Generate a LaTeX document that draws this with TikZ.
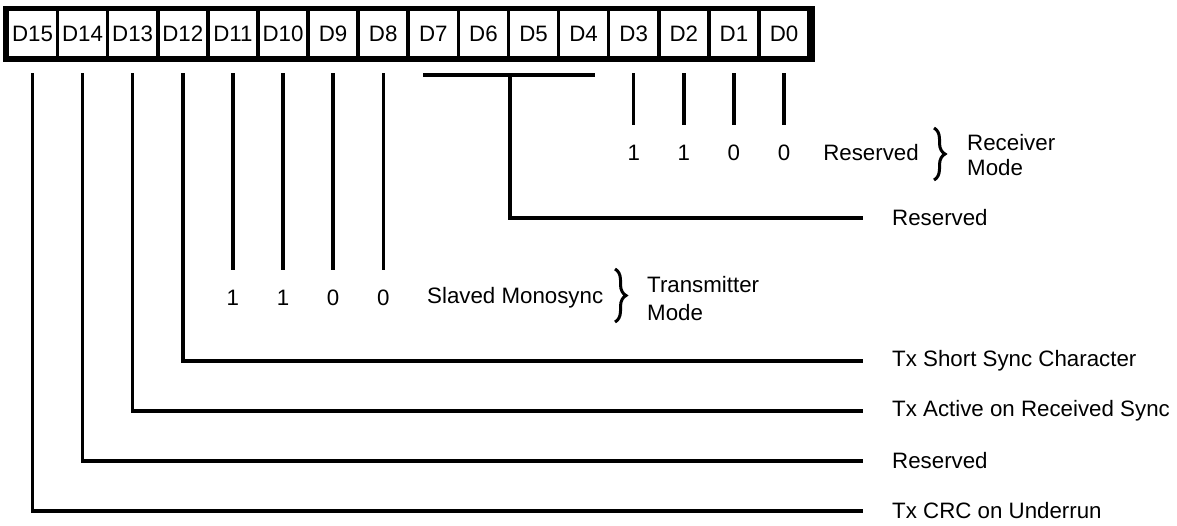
\documentclass[tikz,border=0pt]{standalone}
\usepackage{fontspec}
\setmainfont{Liberation Sans}
\usetikzlibrary{decorations.pathreplacing}
\begin{document}
\begin{tikzpicture}[x=1pt,y=-1pt,
  every node/.style={font=\fontsize{22.3}{26}\selectfont, text=black},
  cell/.style={fill=white, minimum width=46.5pt, minimum height=45pt, inner sep=0pt},
  frame/.style={fill=black, minimum width=812pt, minimum height=56pt, inner sep=0pt},
  conn/.style={line width=3.4pt, black},
  lab/.style={anchor=west, inner sep=0pt},
  digit/.style={inner sep=0pt},
  bracestyle/.style={line width=3pt, decorate, decoration={brace, amplitude=11pt, aspect=0.5}}]
\useasboundingbox (0,0) rectangle (1177,525);
\fill[white] (0,0) rectangle (1177,525);
% register
\node[frame] (reg) at (409,34) {};
\foreach \i in {0,...,15}{
  \pgfmathtruncatemacro{\b}{15-\i}
  \node[cell] (d\b) at ({32.5+50.1*\i},33.5) {D\b};
}
% reference rows
\coordinate (top) at (0,73);
\coordinate (rowA) at (0,125);
\coordinate (rowB) at (0,270);
% labels on the right
\node[lab] (lreserved5) at (892,218) {Reserved};
\node[lab] (lshort) at (892,361) {Tx Short Sync Character};
\node[lab] (lactive) at (892,411) {Tx Active on Received Sync};
\node[lab] (lreserved14) at (892,461) {Reserved};
\node[lab] (lcrc) at (892,511) {Tx CRC on Underrun};
% receiver mode
\foreach \b/\v in {3/1,2/1,1/0,0/0}{
  \node[digit] (ra\b) at (d\b |- 0,153) {\v};
  \draw[conn] (d\b |- top) -- (d\b |- rowA);
}
\node[digit] (rres) at (871,153) {Reserved};
\draw[bracestyle] (934,128) -- (934,180);
\node[lab] (recv) at (967,143) {Receiver};
\node[lab] (recvm) at (967,168) {Mode};
% transmitter mode
\foreach \b/\v in {11/1,10/1,9/0,8/0}{
  \node[digit] (tb\b) at (d\b |- 0,298) {\v};
  \draw[conn] (d\b |- top) -- (d\b |- rowB);
}
\node[lab] (tslave) at (427,298) {Slaved Monosync};
\draw[bracestyle] (615,269) -- (615,322);
\node[lab] (trans) at (647,285) {Transmitter};
\node[lab] (transm) at (647,313) {Mode};
% D7-D4 group
\coordinate (barL) at (423,75);
\coordinate (barR) at (595,75);
\coordinate (barM) at (510,75);
\draw[conn] (barL) -- (barR);
\draw[conn] (barM) |- ([xshift=-29pt]lreserved5.west);
% single bits
\draw[conn] (d12 |- top) |- ([xshift=-29pt]lshort.west);
\draw[conn] (d13 |- top) |- ([xshift=-29pt]lactive.west);
\draw[conn] (d14 |- top) |- ([xshift=-29pt]lreserved14.west);
\draw[conn] (d15 |- top) |- ([xshift=-29pt]lcrc.west);
\end{tikzpicture}
\end{document}
